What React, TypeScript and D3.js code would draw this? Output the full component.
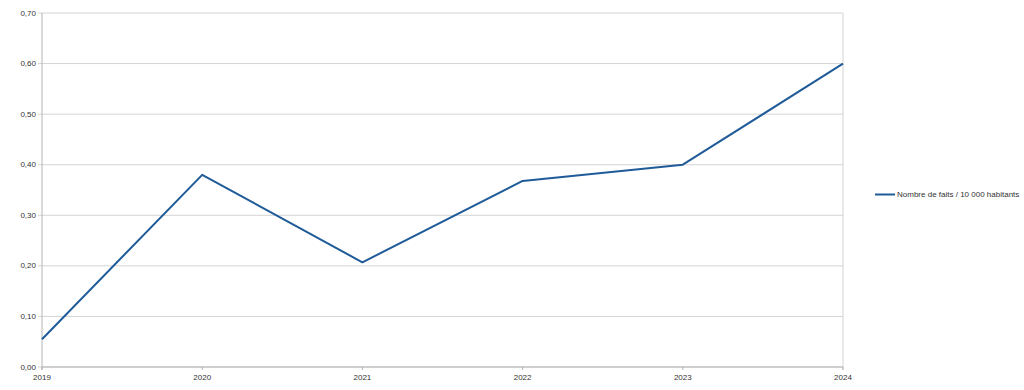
import * as d3 from 'd3';

const years = ['2019', '2020', '2021', '2022', '2023', '2024'];
const rates = [0.055, 0.38, 0.207, 0.368, 0.40, 0.60];
const yTicks = [0, 0.1, 0.2, 0.3, 0.4, 0.5, 0.6, 0.7];
const seriesName = 'Nombre de faits / 10 000 habitants';

const WIDTH = 1024;
const HEIGHT = 390;
const MARGIN = { top: 13, right: 181, bottom: 23, left: 42 };
const LINE_COLOR = '#1f5b98';
const FONT = '"Liberation Sans", Arial, sans-serif';

export default function App() {
  const x = d3
    .scalePoint<string>()
    .domain(years)
    .range([MARGIN.left, WIDTH - MARGIN.right])
    .padding(0);
  const y = d3
    .scaleLinear()
    .domain([0, 0.7])
    .range([HEIGHT - MARGIN.bottom, MARGIN.top]);

  const line = d3
    .line<number>()
    .x((_, i) => x(years[i]) ?? 0)
    .y(d => y(d));

  const fmt = (v: number) => v.toFixed(2).replace('.', ',');
  const x0 = MARGIN.left;
  const x1 = WIDTH - MARGIN.right;
  const yBottom = y(0);

  return (
    <svg
      width={WIDTH}
      height={HEIGHT}
      style={{ position: 'absolute', left: 0, top: 0, background: '#fff' }}
      fontFamily={FONT}
    >
      {/* horizontal grid + y labels */}
      {yTicks.map(t => (
        <g key={t}>
          <line x1={x0 - 4} x2={x1} y1={y(t)} y2={y(t)} stroke="#d4d4d4" strokeWidth={1} />
          <text x={x0 - 6} y={y(t)} dy="0.32em" textAnchor="end" fontSize={8} fill="#333">
            {fmt(t)}
          </text>
        </g>
      ))}

      {/* axes */}
      <line x1={x0} x2={x0} y1={MARGIN.top} y2={yBottom + 3} stroke="#b3b3b3" strokeWidth={1} />
      <line x1={x1} x2={x1} y1={MARGIN.top} y2={yBottom + 3} stroke="#d4d4d4" strokeWidth={1} />
      <line x1={x0} x2={x1} y1={yBottom} y2={yBottom} stroke="#b3b3b3" strokeWidth={1} />

      {years.map(yr => (
        <g key={yr}>
          <line x1={x(yr)} x2={x(yr)} y1={yBottom} y2={yBottom + 3} stroke="#b3b3b3" />
          <text x={x(yr)} y={yBottom + 13} textAnchor="middle" fontSize={8} fill="#333">
            {yr}
          </text>
        </g>
      ))}

      <path
        d={line(rates) ?? ''}
        fill="none"
        stroke={LINE_COLOR}
        strokeWidth={2}
        strokeLinejoin="round"
      />

      {/* legend */}
      <line x1={875} x2={895} y1={194.5} y2={194.5} stroke={LINE_COLOR} strokeWidth={2} />
      <text x={897} y={194.5} dy="0.32em" fontSize={8} fill="#333">
        {seriesName}
      </text>
    </svg>
  );
}
